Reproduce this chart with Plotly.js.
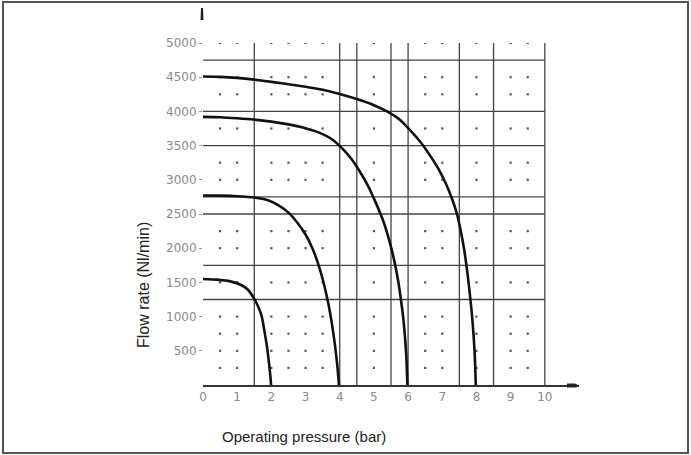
<!DOCTYPE html>
<html><head><meta charset="utf-8">
<script src="https://cdn.plot.ly/plotly-3.0.1.min.js"></script>
<style>html,body{margin:0;padding:0;background:#fff}#chart{width:691px;height:455px}</style>
</head><body><div id="chart"></div>
<script>
// ---- data ----
const pressure2bar = [0, 0.4, 0.8, 1.1, 1.3, 1.5, 1.62, 1.72, 1.8, 1.88, 1.94, 1.98, 1.99];
const flow2bar     = [1550, 1540, 1515, 1465, 1400, 1260, 1140, 1000, 780, 530, 280, 80, 0];

const pressure4bar = [0, 0.5, 1, 1.5, 1.9, 2.2, 2.5, 2.75, 3, 3.2, 3.35, 3.5, 3.62, 3.72, 3.8, 3.87, 3.93, 3.98];
const flow4bar     = [2770, 2768, 2760, 2740, 2700, 2630, 2520, 2380, 2200, 2000, 1800, 1550, 1300, 1050, 800, 550, 280, 0];

const pressure6bar = [0, 0.5, 1, 1.5, 2, 2.5, 3, 3.4, 3.75, 4.05, 4.35, 4.6, 4.85, 5.05, 5.25, 5.4, 5.52, 5.62, 5.71, 5.79, 5.86, 5.91, 5.95, 5.98];
const flow6bar     = [3920, 3915, 3900, 3880, 3850, 3810, 3755, 3690, 3600, 3470, 3300, 3110, 2890, 2670, 2430, 2200, 1980, 1760, 1520, 1250, 970, 700, 400, 0];

const pressure8bar = [0, 0.5, 1, 1.5, 2, 2.5, 3, 3.5, 4, 4.5, 5, 5.4, 5.75, 6.05, 6.35, 6.65, 6.9, 7.1, 7.28, 7.43, 7.55, 7.64, 7.72, 7.78, 7.84, 7.89, 7.93, 7.96, 7.98];
const flow8bar     = [4510, 4505, 4490, 4465, 4432, 4398, 4360, 4315, 4255, 4180, 4090, 3995, 3880, 3730, 3560, 3350, 3150, 2950, 2730, 2500, 2230, 1980, 1700, 1450, 1170, 900, 620, 320, 0];

const xTickVals = [0, 1, 2, 3, 4, 5, 6, 7, 8, 9, 10];
const xTickText = ['0', '1', '2', '3', '4', '5', '6', '7', '8', '9', '10'];
const yTickVals = [500, 1000, 1500, 2000, 2500, 3000, 3500, 4000, 4500, 5000];
const yTickText = ['500', '1000', '1500', '2000', '2500', '3000', '3500', '4000', '4500', '5000'];

// chart grid (irregular lines of the original diagram)
const gridPressures = [1.5, 4, 4.5, 5.5, 6, 7.5, 8.5, 10];
const gridFlows = [4750, 4000, 3500, 2750, 2500, 1750, 1250];
// dotted minor grid
const dotPressures = [0.5, 1, 2, 2.5, 3, 3.5, 5, 6.5, 7, 8, 9, 9.5];
const dotFlows = [5000, 4500, 4250, 3750, 3250, 3000, 2250, 2000, 1500, 1000, 750, 500, 250];

const xTitle = 'Operating pressure (bar)';
const yTitle = 'Flow rate (Nl/min)';

// ---- layout helpers (pixel -> paper) ----
const W = 691, H = 455, ML = 203, MR = 112, MT = 43, MB = 70;
const PW = W - ML - MR, PH = H - MT - MB;
const px = v => (v - ML) / PW;
const py = v => (H - MB - v) / PH;

const dotX = [], dotY = [];
dotPressures.forEach(x => dotFlows.forEach(y => { dotX.push(x); dotY.push(y); }));

const curveStyle = {color: '#111', width: 2.6, shape: 'spline', smoothing: 0.6};
const traces = [
  {x: dotX, y: dotY, type: 'scatter', mode: 'markers', hoverinfo: 'skip',
   marker: {symbol: 'square', size: 2.2, color: '#555'}},
  {x: pressure2bar, y: flow2bar, type: 'scatter', mode: 'lines', line: curveStyle},
  {x: pressure4bar, y: flow4bar, type: 'scatter', mode: 'lines', line: curveStyle},
  {x: pressure6bar, y: flow6bar, type: 'scatter', mode: 'lines', line: curveStyle},
  {x: pressure8bar, y: flow8bar, type: 'scatter', mode: 'lines', line: curveStyle}
];

const shapes = [];
gridPressures.forEach(g => shapes.push({type: 'line', xref: 'x', yref: 'y', x0: g, x1: g, y0: 0, y1: 5000,
  line: {color: '#444', width: 1.3}, layer: 'below'}));
gridFlows.forEach(g => shapes.push({type: 'line', xref: 'x', yref: 'y', x0: 0, x1: 10, y0: g, y1: g,
  line: {color: '#444', width: 1.3}, layer: 'below'}));
// outer frame
shapes.push({type: 'rect', xref: 'paper', yref: 'paper', x0: px(3), x1: px(688), y0: py(453), y1: py(2),
  line: {color: '#555', width: 2}});
// y-axis arrow head
shapes.push({type: 'path', xref: 'paper', yref: 'paper', fillcolor: '#222', line: {width: 0},
  path: `M ${px(201)} ${py(8)} L ${px(203)} ${py(8)} L ${px(203.5)} ${py(20)} L ${px(200.5)} ${py(20)} Z`});
// x-axis arrow head
shapes.push({type: 'path', xref: 'paper', yref: 'paper', fillcolor: '#222', line: {width: 0},
  path: `M ${px(567)} ${py(383.5)} L ${px(575)} ${py(383.5)} L ${px(579)} ${py(385.5)} L ${px(575)} ${py(387.5)} L ${px(567)} ${py(387.5)} Z`});

const tickFont = {family: 'DejaVu Sans', size: 12, color: '#8a8a8a'};
const layout = {
  width: W, height: H,
  margin: {l: ML, r: MR, t: MT, b: MB, pad: 0},
  paper_bgcolor: '#fff', plot_bgcolor: '#fff',
  showlegend: false,
  xaxis: {range: [0, 11], showgrid: false, zeroline: false, showline: true, linecolor: '#333', linewidth: 1.5,
    tickmode: 'array', tickvals: xTickVals, ticktext: xTickText, ticks: '', tickfont: tickFont, fixedrange: true},
  yaxis: {range: [0, 5000], showgrid: false, zeroline: false, showline: false,
    tickmode: 'array', tickvals: yTickVals, ticktext: yTickText, ticks: 'outside', ticklen: 3, tickwidth: 1,
    tickcolor: '#999', tickfont: tickFont, fixedrange: true},
  shapes: shapes,
  annotations: [
    {text: xTitle, xref: 'paper', yref: 'paper', x: px(303.5), y: py(437), xanchor: 'center', yanchor: 'middle',
     showarrow: false, font: {family: 'Liberation Sans', size: 15, color: '#222'}},
    {text: yTitle, xref: 'paper', yref: 'paper', x: px(143), y: py(285), xanchor: 'center', yanchor: 'middle',
     textangle: -90, showarrow: false, font: {family: 'Liberation Sans', size: 16, color: '#222'}}
  ]
};

Plotly.newPlot('chart', traces, layout, {displayModeBar: false, staticPlot: true});
</script></body></html>
